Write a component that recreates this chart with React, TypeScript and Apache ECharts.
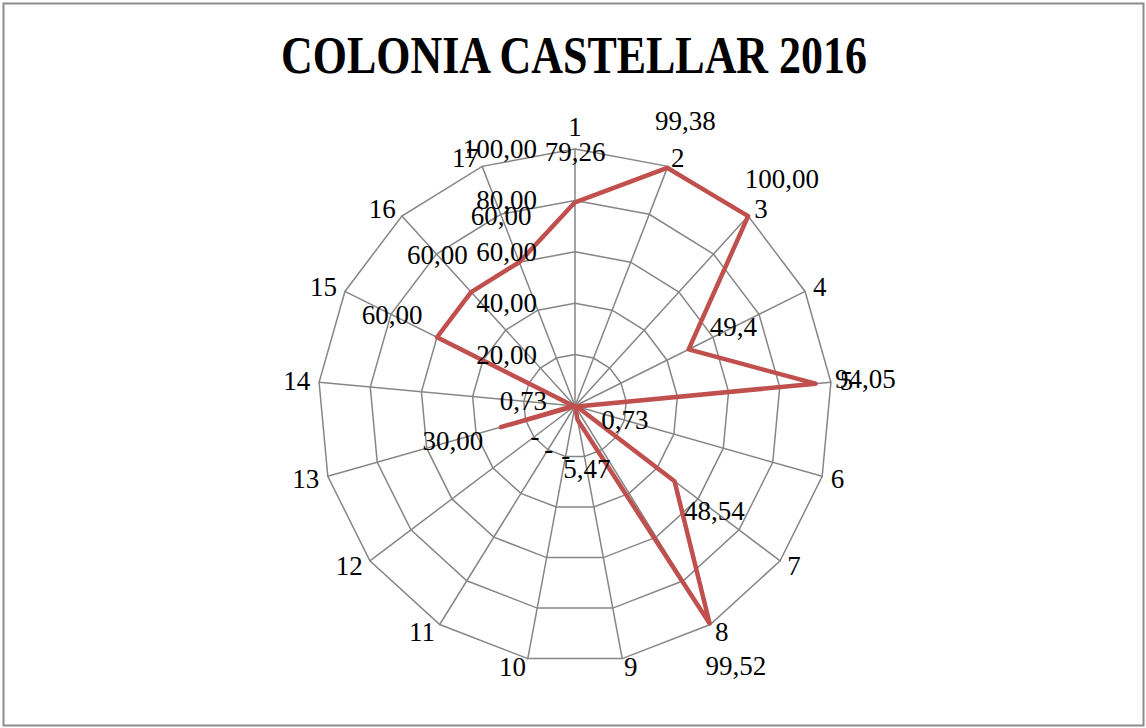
import React, { useEffect, useRef } from "react";
import * as echarts from "echarts";

const title = "COLONIA CASTELLAR 2016";
const categories = ["1", "2", "3", "4", "5", "6", "7", "8", "9", "10", "11", "12", "13", "14", "15", "16", "17"];
const values = [79.26, 99.38, 100, 49.4, 94.05, 0.73, 48.54, 99.52, 5.47, 0, 0, 0, 30, 0.73, 60, 60, 60];
const valueLabels = ["79,26", "99,38", "100,00", "49,4", "94,05", "0,73", "48,54", "99,52", "5,47", "-", "-", "-", "30,00", "0,73", "60,00", "60,00", "60,00"];
const axisMin = 0;
const axisMax = 100;
const axisStep = 20;

const FONT = "'Liberation Serif', 'Times New Roman', serif";
const GRID = "#868686";
const LINE = "#C0504D";
const FS = 27;

export default function App() {
  const ref = useRef<HTMLDivElement>(null);
  useEffect(() => {
    if (!ref.current) return;
    const chart = echarts.init(ref.current, undefined, { renderer: "svg" });
    const n = categories.length;
    // radar draws counter-clockwise: reorder so indicators run clockwise
    const order = categories.map((_, k) => (k === 0 ? 0 : n - k));
    const cx = 575, cy = 406, R = 257;
    const labelDist = 50;

    chart.setOption({
      animation: false,
      backgroundColor: "#ffffff",
      graphic: [
        {
          type: "rect",
          shape: { x: 3.5, y: 3.5, width: 1140, height: 722 },
          style: { fill: "none", stroke: "#8c8c8c", lineWidth: 2 },
          z: 0,
        },
        {
          type: "text",
          x: 574,
          y: 55,
          scaleX: 0.845,
          style: {
            text: title,
            font: `bold 52px ${FONT}`,
            fill: "#000",
            align: "center",
            verticalAlign: "middle",
            textAlign: "center",
            textVerticalAlign: "middle",
          },
        },
      ],
      radar: {
        center: [cx, cy],
        radius: R,
        shape: "polygon",
        splitNumber: (axisMax - axisMin) / axisStep,
        indicator: order.map((i) => ({ name: categories[i], min: axisMin, max: axisMax })),
        nameGap: 9,
        axisName: { color: "#000", fontFamily: FONT, fontSize: FS },
        splitLine: { lineStyle: { color: GRID, width: 1.5 } },
        splitArea: { show: false },
        axisLine: { lineStyle: { color: GRID, width: 1.5 } },
        axisTick: { show: false },
        axisLabel: { show: false },
      },
      polar: { center: [cx, cy], radius: R },
      angleAxis: {
        type: "value",
        min: 0,
        max: n,
        startAngle: 90,
        clockwise: true,
        show: false,
      },
      radiusAxis: {
        type: "value",
        min: axisMin,
        max: axisMax,
        interval: axisStep,
        axisLine: { show: false },
        axisTick: { show: false },
        splitLine: { show: false },
        axisLabel: {
          show: true,
          margin: 38,
          color: "#000",
          fontFamily: FONT,
          fontSize: FS,
          formatter: (v: number) => (v === 0 ? "" : v.toFixed(2).replace(".", ",")),
        },
        z: 10,
      },
      series: [
        {
          type: "radar",
          symbol: "none",
          lineStyle: { color: LINE, width: 4.5 },
          data: [{ value: order.map((i) => values[i]) }],
          z: 5,
        },
        {
          type: "scatter",
          coordinateSystem: "polar",
          symbolSize: 0,
          silent: true,
          z: 10,
          itemStyle: { color: "#000", opacity: 0 },
          data: values.map((v, i) => {
            const a = (i * 2 * Math.PI) / n;
            return {
              value: [v, i],
              label: {
                show: true,
                position: "inside",
                offset: [labelDist * Math.sin(a), -labelDist * Math.cos(a)],
                formatter: () => valueLabels[i],
                color: "#000",
                opacity: 1,
                textBorderWidth: 0,
                textBorderColor: "transparent",
                fontFamily: FONT,
                fontSize: FS,
              },
            };
          }),
        },
      ],
    });
    return () => chart.dispose();
  }, []);
  return (
    <div
      ref={ref}
      style={{ position: "fixed", left: 0, top: 0, width: 1146, height: 728, background: "#fff" }}
    />
  );
}
